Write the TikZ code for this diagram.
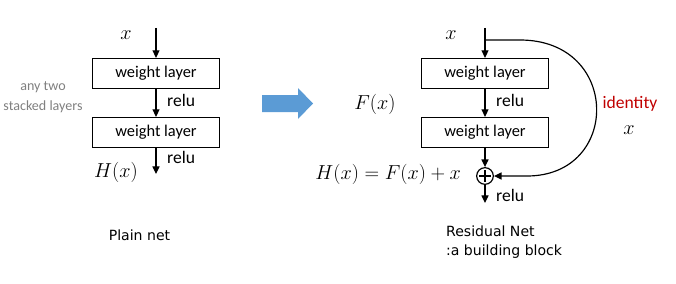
\documentclass[tikz,border=0pt]{standalone}
\usepackage{fontspec}
\setmainfont{Carlito}
\newfontfamily\capfont{DejaVu Sans}
\usepackage{tikz}
\usetikzlibrary{positioning,arrows.meta,calc}
\usepackage{xcolor}
\definecolor{arrowblue}{RGB}{91,155,213}
\definecolor{idred}{RGB}{192,0,0}

\begin{document}
\begin{tikzpicture}[x=0.03cm,y=-0.03cm,
  box/.style={rectangle,draw=black,line width=1pt,minimum width=3.81cm,
              minimum height=0.9cm,inner sep=0pt,font=\fontsize{14}{16}\selectfont},
  flow/.style={-{Triangle[length=6.5pt,width=6pt]},line width=1pt},
  lbl/.style={font=\fontsize{15}{18}\selectfont,inner sep=1pt},
  mth/.style={font=\fontsize{17}{20}\selectfont},
  note/.style={text=gray,align=center,font=\fontsize{12}{17}\selectfont},
  captxt/.style={font=\capfont\fontsize{12}{16}\selectfont}
]
\useasboundingbox (0,0) rectangle (676,284);
% plain net
\coordinate (pin) at (156,28);
\coordinate (pout) at (156,174);
\node[mth] (px) at (126,35) {$x$};
\node[box] (pw1) at (156,73.5) {weight layer};
\node[box] (pw2) at (156,132.5) {weight layer};
\node[mth] (ph) at (116,172) {$H(x)$};
\node[note] (stack) at (43,97) {any two\\stacked layers};
\draw[flow] (pin) -- (pw1.north);
\draw[flow] (pw1.south) -- node[lbl,right=8pt,pos=0.4] (pr1) {relu} (pw2.north);
\draw[flow] (pw2.south) -- node[lbl,right=8pt,pos=0.35] (pr2) {relu} (pout);
% big arrow
\fill[arrowblue] (262,95) -- (298,95) -- (298,88) -- (313,103.5) -- (298,119) -- (298,112) -- (262,112) -- cycle;
% residual block
\coordinate (rin) at (485,28);
\coordinate (split) at (485,40);
\coordinate (rout) at (485,203);
\node[mth] (rx) at (451,35) {$x$};
\node[box] (rw1) at (485,73.5) {weight layer};
\node[box] (rw2) at (485,132.5) {weight layer};
\node[circle,draw,line width=1pt,minimum size=0.5cm,inner sep=0pt] (add) at (485,176) {};
\draw[line width=1pt] ($(add.north)!0.18!(add.south)$) -- ($(add.south)!0.18!(add.north)$)
      ($(add.west)!0.18!(add.east)$) -- ($(add.east)!0.18!(add.west)$);
\node[mth] (fx) at (375,104) {$F(x)$};
\node[mth,anchor=east] (hx) at (465,174) {$H(x)=F(x)+x$};
\node[lbl,text=idred] (ident) at (630,104) {identity};
\node[mth] (idx) at (629,130) {$x$};
\draw[flow] (rin) -- (rw1.north);
\draw[flow] (rw1.south) -- node[lbl,right=8pt,pos=0.4] (rr1) {relu} (rw2.north);
\draw[flow] (rw2.south) -- (add.north);
\draw[flow] (add.south) -- node[lbl,right=8pt,pos=0.6] (rr2) {relu} (rout);
\draw[flow] (split) -- (520,40) .. controls (621,40) and (621,176) .. (527,176) -- (add.east);
% captions
\node[captxt] (pcap) at (139.5,235) {Plain net};
\node[captxt,anchor=west,align=left] (rcap) at (442,242) {Residual Net\\:a building block};
\end{tikzpicture}
\end{document}
